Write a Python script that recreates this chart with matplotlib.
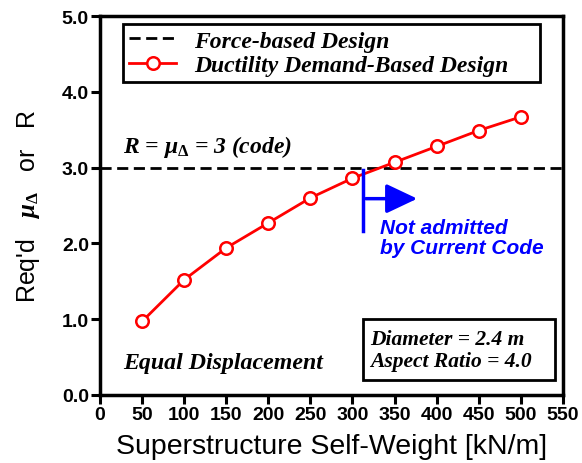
import matplotlib
matplotlib.use("Agg")
import matplotlib.pyplot as plt
from matplotlib.patches import Rectangle

plt.rcParams['mathtext.fontset'] = 'custom'
plt.rcParams['mathtext.it'] = 'Liberation Serif:bold:italic'
plt.rcParams['mathtext.rm'] = 'Liberation Serif:bold'
plt.rcParams['mathtext.bf'] = 'Liberation Serif:bold'

weights = [50, 100, 150, 200, 250, 300, 350, 400, 450, 500]
ductility = [0.97, 1.52, 1.94, 2.27, 2.60, 2.86, 3.07, 3.28, 3.49, 3.67]
force_x = [0, 550]
force_y = [3.0, 3.0]
xticks = [0, 50, 100, 150, 200, 250, 300, 350, 400, 450, 500, 550]
yticks = [0.0, 1.0, 2.0, 3.0, 4.0, 5.0]

fig = plt.figure(figsize=(5.82, 4.64), dpi=100)
ax = fig.add_axes([0.172, 0.147, 0.795, 0.816])

ax.plot(force_x, force_y, 'k--', lw=2, dashes=(4, 2), label='Force-based Design')
ax.plot(weights, ductility, '-o', color='red', lw=2, markersize=9,
        markerfacecolor='white', markeredgecolor='red', markeredgewidth=1.8,
        label='Ductility Demand-Based Design')

ax.set_xlim(0, 550)
ax.set_ylim(0, 5)
ax.set_xticks(xticks)
ax.set_yticks(yticks)
ax.set_xticklabels([str(v) for v in xticks], fontsize=14, fontweight='bold', family='Liberation Sans')
ax.set_yticklabels(['%.1f' % v for v in yticks], fontsize=14, fontweight='bold', family='Liberation Sans')
ax.tick_params(direction='out', length=6.5, width=2.2, pad=1.5)
for s in ax.spines.values():
    s.set_linewidth(2.5)

ax.set_xlabel('Superstructure Self-Weight [kN/m]', fontsize=20.5, family='Liberation Sans', labelpad=7)
ax.set_ylabel(r"Req'd   $\mu_{\mathit{\Delta}}$   or   R", fontsize=18, family='Liberation Sans', labelpad=14)

leg = ax.legend(loc='upper left', bbox_to_anchor=(0.0497, 0.826, 0.900, 0.153), mode='expand',
                frameon=True, fancybox=False, framealpha=1.0,
                edgecolor='black', handlelength=2.0, handletextpad=0.75, borderpad=0.25,
                labelspacing=0.14, borderaxespad=0.0,
                prop={'family': 'Liberation Serif', 'weight': 'bold', 'style': 'italic', 'size': 17})
leg.get_frame().set_linewidth(2)

ax.text(27, 3.28, r'R = $\mu_{\mathit{\Delta}}$ = 3 (code)', fontsize=17, family='Liberation Serif',
        fontweight='bold', style='italic', va='center', ha='left')
ax.text(27, 0.42, 'Equal Displacement', fontsize=17.2, family='Liberation Serif',
        fontweight='bold', style='italic', va='center', ha='left')

ax.add_patch(Rectangle((312.6, 0.197), 228, 0.803, fill=True, fc='white', ec='black', lw=2, zorder=3))
ax.text(321, 0.737, 'Diameter = 2.4 m', fontsize=15.5, family='Liberation Serif',
        fontweight='bold', style='italic', va='center', ha='left', zorder=4)
ax.text(321, 0.447, 'Aspect Ratio = 4.0', fontsize=15.5, family='Liberation Serif',
        fontweight='bold', style='italic', va='center', ha='left', zorder=4)

ax.plot([312, 312], [2.16, 2.97], color='blue', lw=2.5)
ax.annotate('', xy=(377, 2.59), xytext=(316, 2.59),
            arrowprops=dict(arrowstyle='-|>,head_length=1.9,head_width=0.9', color='blue', lw=2.5,
                            shrinkA=0, shrinkB=0))
ax.text(333, 2.08, 'Not admitted\nby Current Code', fontsize=15, family='Liberation Sans',
        fontweight='bold', style='italic', color='blue', va='center', ha='left', linespacing=1.05)

fig.savefig('out.png', dpi=100)
